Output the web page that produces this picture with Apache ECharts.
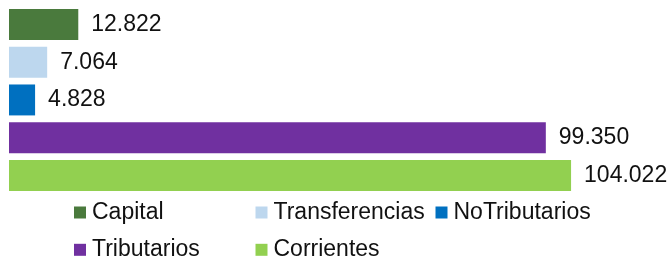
<!DOCTYPE html>
<html>
<head>
<meta charset="utf-8">
<script src="https://cdn.jsdelivr.net/npm/echarts@6/dist/echarts.min.js"></script>
<style>html,body{margin:0;padding:0;background:#fff}#c{width:671px;height:259px}</style>
</head>
<body>
<div id="c"></div>
<script>
var categories = ['Capital', 'Transferencias', 'NoTributarios', 'Tributarios', 'Corrientes'];
var values = [12.822, 7.064, 4.828, 99.350, 104.022];
var colors = ['#4a7a3d', '#bdd7ee', '#0070c0', '#7030a0', '#92d050'];

var font = '"Liberation Sans", Arial, sans-serif';
var series = categories.map(function (name, i) {
  var d = categories.map(function (c, j) { return j === i ? values[i] : '-'; });
  return {
    name: name,
    type: 'bar',
    stack: 'all',
    barCategoryGap: '18%',
    data: d,
    itemStyle: { color: colors[i] },
    label: {
      show: true,
      position: 'right',
      distance: 13,
      color: '#111',
      fontFamily: font,
      fontSize: 23,
      formatter: function (p) { return p.value.toFixed(3); }
    }
  };
});

// legend slots: [left, top] for each item
var legendPos = [[74, 201], [255.5, 201], [435.5, 201], [74, 238.3], [255.5, 238.3]];
var legends = categories.map(function (name, i) {
  return {
    orient: 'horizontal',
    left: legendPos[i][0],
    top: legendPos[i][1],
    padding: 0,
    itemWidth: 12,
    itemHeight: 12,
    icon: 'rect',
    data: [name],
    textStyle: { fontFamily: font, fontSize: 23, lineHeight: 23, color: '#111', padding: [0, 0, 0, 1] }
  };
});

var chart = echarts.init(document.getElementById('c'));
chart.setOption({
  animation: false,
  grid: { left: 9, top: 5.6, width: 648.4, height: 188.7, containLabel: false },
  xAxis: { type: 'value', min: 0, max: 120, show: false },
  yAxis: { type: 'category', data: categories, inverse: true, show: false },
  legend: legends,
  series: series
});
</script>
</body>
</html>
